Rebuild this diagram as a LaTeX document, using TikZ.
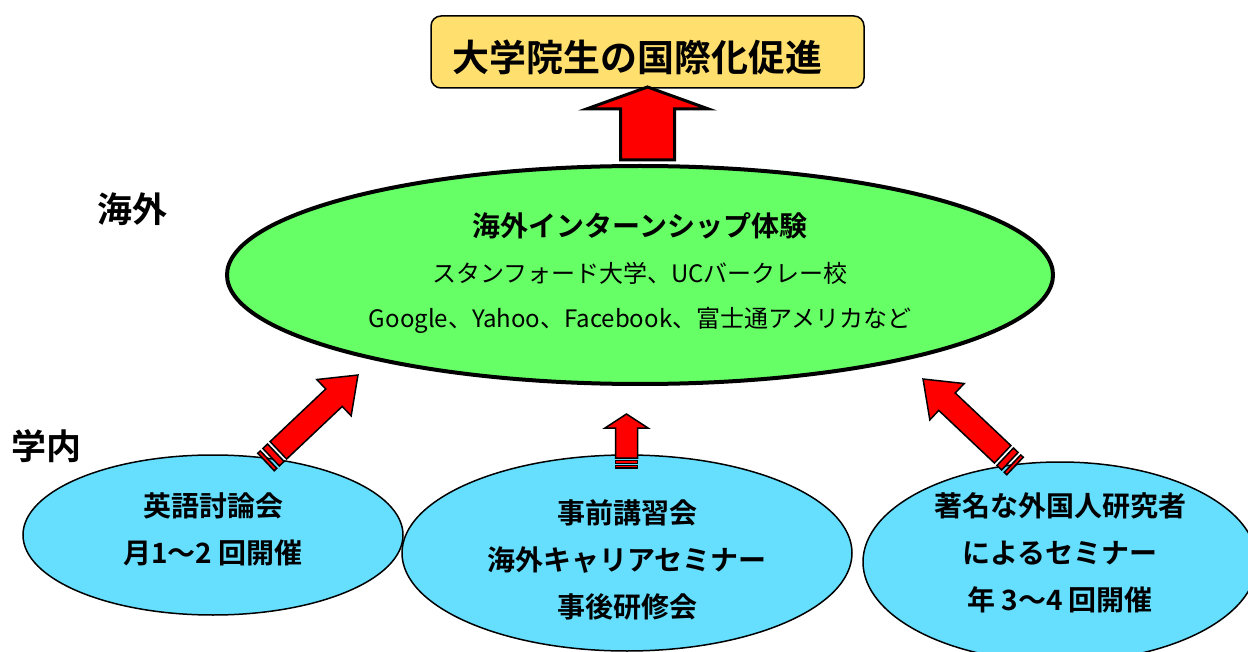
\documentclass[tikz,border=0pt]{standalone}
\usepackage{fontspec}
\setmainfont{Noto Sans CJK JP}[BoldFont={Noto Sans CJK JP Bold}]
\usetikzlibrary{shapes.geometric,calc}
\definecolor{boxyellow}{RGB}{255,224,110}
\definecolor{ellgreen}{RGB}{102,255,102}
\definecolor{ellblue}{RGB}{102,223,255}
\tikzset{
  goalbox/.style={draw=black,line width=1.5pt,fill=boxyellow,rounded corners=10pt,
    minimum width=433pt,minimum height=72pt,inner sep=0pt},
  greenell/.style={ellipse,draw=black,line width=4pt,fill=ellgreen,inner sep=0pt},
  blueell/.style={ellipse,draw=black,line width=1.5pt,fill=ellblue,inner sep=0pt},
  bigtxt/.style={font=\bfseries\fontsize{37}{44}\selectfont,inner sep=0pt},
  sidelabel/.style={font=\bfseries\fontsize{35}{42}\selectfont,inner sep=0pt},
  titletxt/.style={font=\bfseries\fontsize{28}{34}\selectfont,inner sep=0pt},
  subtxt/.style={font=\fontsize{24}{30}\selectfont,inner sep=0pt},
  bluetxt/.style={font=\bfseries\fontsize{28}{47}\selectfont,align=center,inner sep=0pt},
  arrowfill/.style={fill=red,draw=black,line width=1.5pt,line join=miter},
  bigarrowfill/.style={fill=red,draw=black,line width=3pt,line join=miter},
}
\newcommand\arrowsetup[2]{%
  \path let \p1=($(#2)-(#1)$) in \pgfextra{%
    \pgfmathparse{veclen(\x1,\y1)}\xdef\arlen{\pgfmathresult}%
    \pgfmathparse{atan2(\y1,\x1)}\xdef\arang{\pgfmathresult}};%
}
% #1 tail, #2 tip, #3 shaft half width, #4 head half width, #5 head length,
% #6 end of stripe 1, #7 start of stripe 2, #8 end of stripe 2, #9 start of shaft
\newcommand\stripedarrow[9]{%
  \arrowsetup{#1}{#2}%
  \begin{scope}[shift={(#1)},rotate=\arang]
    \filldraw[arrowfill] (0,-#3) rectangle (#6,#3);
    \filldraw[arrowfill] (#7,-#3) rectangle (#8,#3);
    \filldraw[arrowfill] (#9,-#3) -- ({\arlen-#5},-#3) -- ({\arlen-#5},-#4) -- (\arlen,0)
      -- ({\arlen-#5},#4) -- ({\arlen-#5},#3) -- (#9,#3) -- cycle;
  \end{scope}}
\newcommand\blockarrow[5]{%
  \arrowsetup{#1}{#2}%
  \begin{scope}[shift={(#1)},rotate=\arang]
    \filldraw[bigarrowfill] (0,-#3) -- ({\arlen-#5},-#3) -- ({\arlen-#5},-#4) -- (\arlen,0)
      -- ({\arlen-#5},#4) -- ({\arlen-#5},#3) -- (0,#3) -- cycle;
  \end{scope}}
\begin{document}
\begin{tikzpicture}[x=1pt,y=-1pt]
  \useasboundingbox (0,0) rectangle (1248,652);
  % goal box
  \node[goalbox] (goal) at (647.5,52) {};
  \node[bigtxt] (goaltxt) at (637,57) {大学院生の国際化促進};
  % side labels
  \node[sidelabel] (abroad) at (132,209) {海外};
  \node[sidelabel] (campus) at (47,446) {学内};
  % green ellipse
  \node[greenell,minimum width=826pt,minimum height=218pt] (intern) at (640,275) {};
  \node[titletxt] (interntitle) at (640,226) {海外インターンシップ体験};
  \node[subtxt] (internl1) at (640,273) {スタンフォード大学、UCバークレー校};
  \node[subtxt] (internl2) at (640,320) {Google、Yahoo、Facebook、富士通アメリカなど};
  % blue ellipses
  \node[blueell,minimum width=380pt,minimum height=160pt] (eng) at (213,535) {};
  \node[bluetxt] (engtxt) at (213,529) {英語討論会\\月1～2 回開催};
  \node[blueell,minimum width=450pt,minimum height=196pt] (career) at (627,553) {};
  \node[bluetxt] (careertxt) at (627,560) {事前講習会\\海外キャリアセミナー\\事後研修会};
  \node[blueell,minimum width=394pt,minimum height=200pt] (seminar) at (1060,562) {};
  \node[bluetxt] (seminartxt) at (1060,553) {著名な外国人研究者\\によるセミナー\\年 3～4 回開催};
  % arrow end points
  \coordinate (bigtail) at (647.5,160);
  \coordinate (bigtip) at (647.5,87);
  \coordinate (ltail) at (266,462);
  \coordinate (ltip) at (358,375);
  \coordinate (mtail) at (626.5,468);
  \coordinate (mtip) at (626.5,414);
  \coordinate (rtail) at (1015,466);
  \coordinate (rtip) at (923,379);
  % arrows
  \blockarrow{bigtail}{bigtip}{27}{61}{22}
  \stripedarrow{ltail}{ltip}{12}{25}{33}{3.5}{7}{13.5}{17}
  \stripedarrow{mtail}{mtip}{11}{21.5}{14}{2.5}{4.5}{7.5}{10}
  \stripedarrow{rtail}{rtip}{12}{25}{33}{3.5}{7}{13.5}{17}
\end{tikzpicture}
\end{document}
